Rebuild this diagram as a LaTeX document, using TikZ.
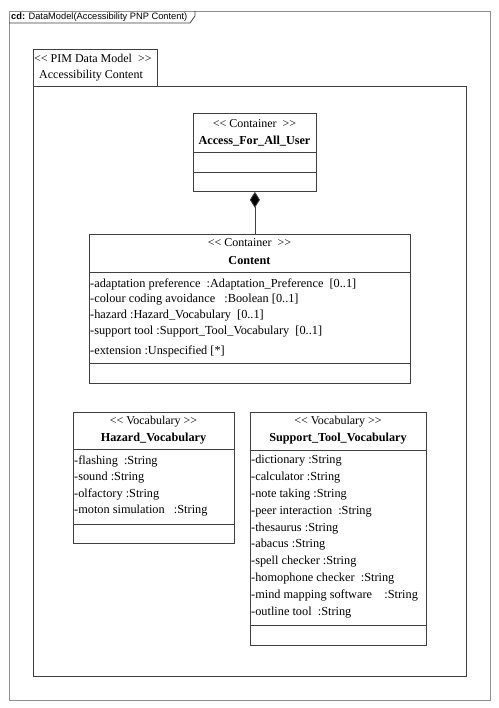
\documentclass[tikz,border=0pt]{standalone}
\usepackage{fontspec}
\setmainfont{Liberation Serif}
\setsansfont{Liberation Sans}
\usetikzlibrary{arrows.meta}
\definecolor{ln}{HTML}{404040}
\definecolor{frame}{HTML}{909090}
\newcommand{\lt}{<{}<}
\newcommand{\gt}{>{}>}
\tikzset{
  box/.style={draw=ln, line width=0.8pt, rectangle, anchor=north west, inner sep=0pt},
  sep/.style={draw=ln, line width=0.8pt},
  attr/.style={anchor=west, inner sep=0pt, font=\fontsize{12.3}{14}\selectfont},
  stereo/.style={anchor=center, inner sep=0pt, font=\fontsize{12}{14}\selectfont},
  cname/.style={anchor=center, inner sep=0pt, font=\fontsize{12.2}{14}\selectfont\bfseries},
}
\begin{document}
\begin{tikzpicture}[x=1pt,y=-1pt]
\useasboundingbox (0,0) rectangle (498,708);
\fill[white] (0,0) rectangle (498,708);
% outer frame
\draw[frame, line width=0.8pt] (9,11) rectangle (490,700);
\draw[ln, line width=0.8pt] (9,23) -- (190,23) -- (195,16) -- (195,11);
\node[anchor=west, inner sep=0pt, font=\sffamily\fontsize{9.3}{11}\selectfont] (cd) at (11,17) {\textbf{cd:} DataModel(Accessibility PNP Content)};
% package
\draw[ln, line width=0.8pt] (33,86) -- (33,49) -- (157,49) -- (157,86);
\node[box, minimum width=433pt, minimum height=590pt] (pkg) at (33,86) {};
\node[anchor=west, inner sep=0pt, font=\fontsize{12}{14}\selectfont] (pst) at (34,58) {\lt{} PIM Data Model\ \ \gt};
\node[anchor=west, inner sep=0pt, font=\fontsize{12}{14}\selectfont] (pnm) at (39,76) {Accessibility Content};
% Access_For_All_User
\node[box, minimum width=123pt, minimum height=78pt] (access) at (193,113) {};
\draw[sep] (193,152) -- (316,152);
\draw[sep] (193,172) -- (316,172);
\node[stereo] (accst) at (254.5,124) {\lt{} Container\ \ \gt};
\node[cname] (accnm) at (254.5,141) {Access\_For\_All\_User};
% Content
\node[box, minimum width=321pt, minimum height=149pt] (content) at (89,234) {};
\draw[sep] (89,272) -- (410,272);
\draw[sep] (89,363) -- (410,363);
\node[stereo] (cst) at (249.5,243) {\lt{} Container\ \ \gt};
\node[cname] (cnm) at (249.5,261) {Content};
\node[attr] (c1) at (90,284) {-adaptation preference\ \ :Adaptation\_Preference\ \ [0..1]};
\node[attr] (c2) at (90,300) {-colour coding avoidance\ \ \ :Boolean [0..1]};
\node[attr] (c3) at (90,316) {-hazard :Hazard\_Vocabulary\ \ [0..1]};
\node[attr] (c4) at (90,332) {-support tool :Support\_Tool\_Vocabulary\ \ [0..1]};
\node[attr] (c5) at (90,351) {-extension :Unspecified [*]};
% composition
\draw[ln, line width=0.8pt, -{Diamond[length=16pt,width=10pt,fill=black]}] (content.north -| access.south) -- (access.south);
% Hazard_Vocabulary
\node[box, minimum width=161pt, minimum height=131pt] (hazard) at (73,412) {};
\draw[sep] (73,449) -- (234,449);
\draw[sep] (73,524) -- (234,524);
\node[stereo] (hst) at (153.5,422) {\lt{} Vocabulary \gt};
\node[cname] (hnm) at (153.5,439) {Hazard\_Vocabulary};
\node[attr] (h1) at (74,461) {-flashing\ \ :String};
\node[attr] (h2) at (74,478) {-sound :String};
\node[attr] (h3) at (74,494) {-olfactory :String};
\node[attr] (h4) at (74,511) {-moton simulation\ \ \ :String};
% Support_Tool_Vocabulary
\node[box, minimum width=176pt, minimum height=233pt] (support) at (250,412) {};
\draw[sep] (250,450) -- (426,450);
\draw[sep] (250,625) -- (426,625);
\node[stereo] (sst) at (338,422) {\lt{} Vocabulary \gt};
\node[cname] (snm) at (338,439) {Support\_Tool\_Vocabulary};
\node[attr] (s1) at (251,461) {-dictionary :String};
\node[attr] (s2) at (251,477.8) {-calculator :String};
\node[attr] (s3) at (251,494.6) {-note taking :String};
\node[attr] (s4) at (251,511.4) {-peer interaction\ \ :String};
\node[attr] (s5) at (251,528.2) {-thesaurus :String};
\node[attr] (s6) at (251,545) {-abacus :String};
\node[attr] (s7) at (251,561.8) {-spell checker :String};
\node[attr] (s8) at (251,578.6) {-homophone checker\ \ :String};
\node[attr] (s9) at (251,595.4) {-mind mapping software\ \ \ \ :String};
\node[attr] (s10) at (251,612.2) {-outline tool\ \ :String};
\end{tikzpicture}
\end{document}
